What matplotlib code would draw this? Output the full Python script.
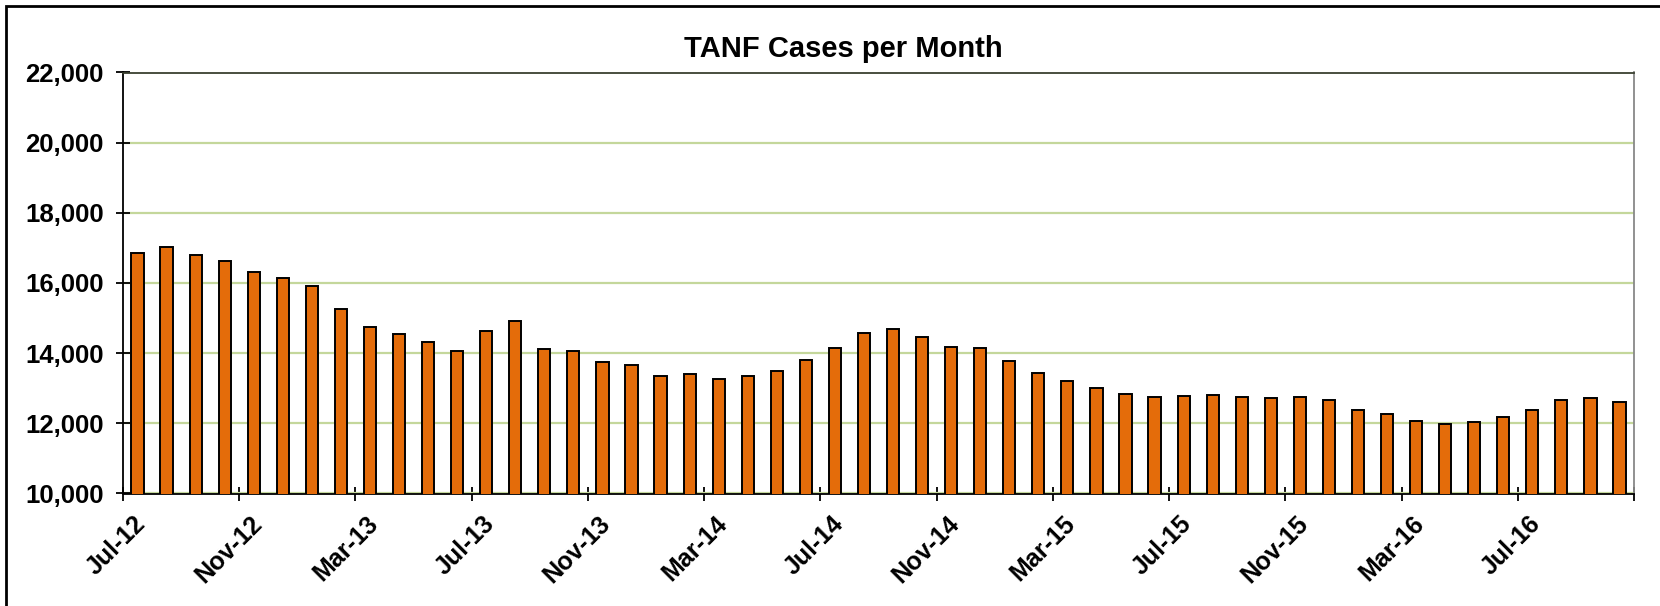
import matplotlib
matplotlib.use("Agg")
import matplotlib.pyplot as plt
import matplotlib.transforms as mtransforms
from matplotlib.patches import Rectangle
from matplotlib.ticker import FuncFormatter
import numpy as np
import pandas as pd

plt.rcParams['font.family'] = ['Liberation Sans', 'DejaVu Sans']

# Monthly TANF cases, Jul-12 .. Oct-16
months = pd.date_range('2012-07-01', periods=52, freq='MS')
cases = [16857, 17038, 16810, 16638, 16314, 16143, 15905, 15257,
         14733, 14543, 14324, 14067, 14619, 14924, 14114, 14076,
         13762, 13676, 13360, 13420, 13250, 13344, 13496, 13810,
         14152, 14589, 14684, 14456, 14162, 14152, 13781, 13439,
         13202, 13021, 12841, 12755, 12765, 12819, 12762, 12724,
         12743, 12676, 12390, 12276, 12057, 11971, 12029, 12171,
         12381, 12667, 12714, 12610]
tick_labels = ['Jul-12', 'Nov-12', 'Mar-13', 'Jul-13', 'Nov-13', 'Mar-14', 'Jul-14',
               'Nov-14', 'Mar-15', 'Jul-15', 'Nov-15', 'Mar-16', 'Jul-16']

W, H = 1660, 606
fig = plt.figure(figsize=(W / 100, H / 100), dpi=100)
ax = fig.add_axes([123 / W, 1 - 493.5 / H, (1634 - 123) / W, (493.5 - 72.5) / H])

x = np.arange(len(months))
ax.bar(x, cases, width=0.42, color='#e46c0a', edgecolor='black', linewidth=1.4, zorder=3)

ax.set_xlim(-0.5, len(months) - 0.5)
ax.set_ylim(10000, 22000)
ax.set_yticks(np.arange(10000, 22001, 2000))
ax.yaxis.set_major_formatter(FuncFormatter(lambda v, p: f'{v:,.0f}'))
ax.grid(axis='y', color='#c4d79b', linewidth=1.6, zorder=0)
ax.set_axisbelow(True)

# ticks sit on the boundaries between months, every 4th month
ax.set_xticks(np.arange(-0.5, len(months), 4))
ax.set_xticklabels(tick_labels + [''])

ax.tick_params(axis='both', direction='inout', length=10, width=1.3)
ax.tick_params(axis='y', pad=9, labelsize=18.5)
ax.tick_params(axis='x', pad=14, labelsize=18)
for lbl in ax.get_yticklabels():
    lbl.set_fontweight('bold')
offset = mtransforms.ScaledTranslation(0.19, 0, fig.dpi_scale_trans)
for lbl in ax.get_xticklabels():
    lbl.set_fontweight('bold')
    lbl.set_rotation(45)
    lbl.set_ha('right')
    lbl.set_va('center')
    lbl.set_rotation_mode('anchor')
    lbl.set_transform(lbl.get_transform() + offset)

for side in ['left', 'bottom']:
    ax.spines[side].set_color('black')
    ax.spines[side].set_linewidth(1.3)
ax.spines['top'].set_color('#3a4030')
ax.spines['top'].set_linewidth(1.3)
ax.spines['right'].set_color('#888888')
ax.spines['right'].set_linewidth(1.3)

fig.text(843 / W, 1 - 49 / H, 'TANF Cases per Month', ha='center', va='center',
         fontsize=21, fontweight='bold')

# outer chart border (only left and top are inside the image)
fig.add_artist(Rectangle((6 / W, -0.1), 1.2, 1.1 - 5.5 / H, transform=fig.transFigure,
                         fill=False, edgecolor='black', linewidth=2))

fig.savefig('out.png', dpi=100)
